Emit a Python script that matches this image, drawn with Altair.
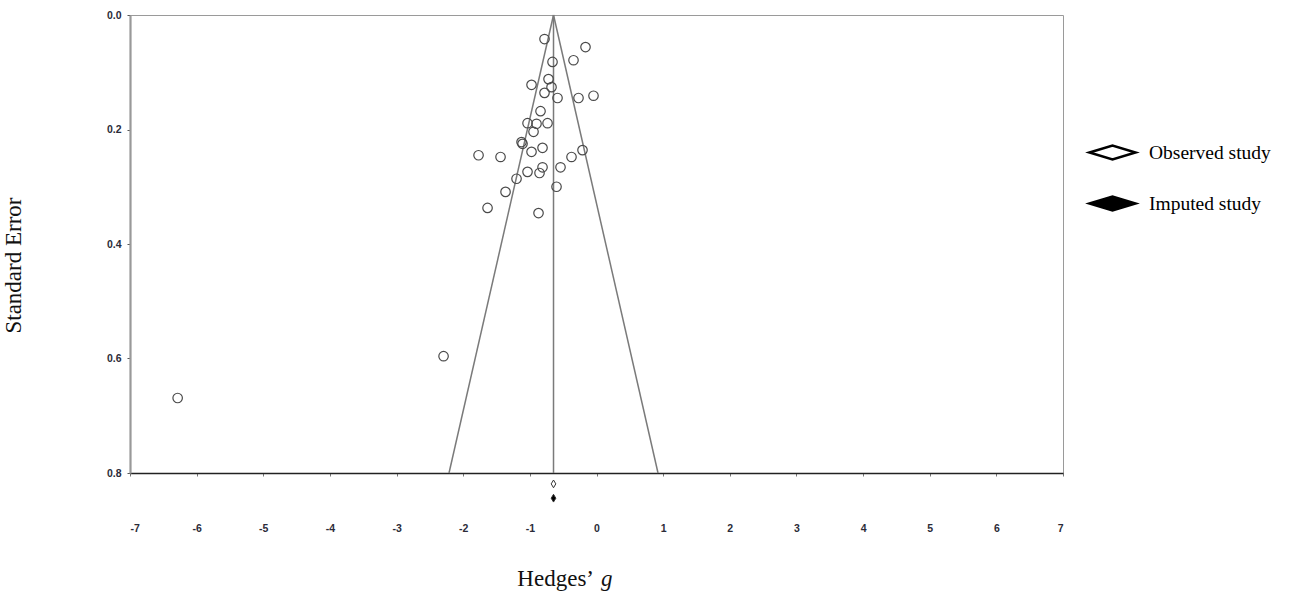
import altair as alt
import pandas as pd

# Observed studies: Hedges' g and standard error
g_values = [-0.78, -0.165, -0.345, -0.66, -0.975, -0.72, -0.675, -0.78, -0.585, -0.27,
            -0.045, -0.84, -1.035, -0.90, -0.735, -0.945, -1.125, -1.11, -0.81, -0.975,
            -1.77, -1.44, -0.21, -0.375, -0.54, -0.81, -0.855, -1.035, -1.20, -0.60,
            -1.365, -1.635, -0.87, -2.295, -6.285]
se_values = [0.042, 0.056, 0.079, 0.082, 0.122, 0.112, 0.126, 0.136, 0.145, 0.145,
             0.141, 0.168, 0.189, 0.190, 0.189, 0.204, 0.222, 0.225, 0.232, 0.239,
             0.245, 0.248, 0.236, 0.248, 0.266, 0.266, 0.276, 0.274, 0.286, 0.300,
             0.309, 0.337, 0.346, 0.596, 0.669]

# Summary effects (observed / imputed) shown under the axis
summary_labels = ["Observed study", "Imputed study"]
summary_g = [-0.645, -0.645]
summary_row = [0.819, 0.844]

mean_g = -0.645
se_max = 0.8
x_ticks = [-7, -6, -5, -4, -3, -2, -1, 0, 1, 2, 3, 4, 5, 6, 7]
y_ticks = [0.0, 0.2, 0.4, 0.6, 0.8]

studies = pd.DataFrame({"g": g_values, "se": se_values})
summary = pd.DataFrame({"g": summary_g, "row": summary_row, "type": summary_labels})
funnel = pd.DataFrame({
    "x": [mean_g, mean_g, mean_g],
    "x2": [mean_g - 1.96 * se_max, mean_g + 1.96 * se_max, mean_g],
    "y": [0.0, 0.0, 0.0],
    "y2": [se_max, se_max, se_max],
})

xs = alt.Scale(domain=[-7, 7], nice=False, zero=False)
ys = alt.Scale(domain=[0, 0.8], nice=False, zero=False, reverse=True)

tick_font = "Liberation Sans"
xaxis = alt.Axis(values=x_ticks, labelExpr="'' + datum.value", title=None, grid=False,
                 labelFont=tick_font, labelFontWeight="bold", labelFontSize=10.5,
                 labelColor="#2b2b38", tickSize=3, tickColor="#777", labelPadding=47,
                 domainColor="#222", domainWidth=1.5)
yaxis = alt.Axis(values=y_ticks, format=".1f", title="Standard Error", grid=False,
                 labelFont=tick_font, labelFontWeight="bold", labelFontSize=10.5,
                 labelColor="#2b2b38", tickSize=3, tickColor="#555", labelPadding=6,
                 domainColor="#999", domainWidth=2.2,
                 titleFont="Liberation Serif", titleFontSize=23, titleFontWeight="normal",
                 titleColor="#111", titleX=-105, titleY=250, titleAngle=-90)

rules = alt.Chart(funnel).mark_rule(color="#7a7a7a", strokeWidth=1.5).encode(
    x=alt.X("x:Q", scale=xs, axis=xaxis),
    x2="x2:Q",
    y=alt.Y("y:Q", scale=ys, axis=yaxis),
    y2="y2:Q",
)

points = alt.Chart(studies).mark_point(
    shape="circle", filled=False, stroke="#4a4a4a", strokeWidth=1.2, size=90, opacity=1
).encode(
    x=alt.X("g:Q", scale=xs, axis=xaxis),
    y=alt.Y("se:Q", scale=ys, axis=yaxis),
)

wide_diamond = "M-1,0L0,-0.3L1,0L0,0.3Z"
tall_diamond = "M0,-1L0.6,0L0,1L-0.6,0Z"

diamonds = alt.Chart(summary).mark_point(
    shape=tall_diamond, filled=True, size=60, stroke="#333", strokeWidth=1, opacity=1
).encode(
    x=alt.X("g:Q", scale=xs, axis=xaxis),
    y=alt.Y("row:Q", scale=ys, axis=yaxis),
    fill=alt.Fill("type:N",
                  scale=alt.Scale(domain=summary_labels, range=["white", "black"]),
                  legend=alt.Legend(title=None, orient="none", legendX=958, legendY=113,
                                    symbolType=wide_diamond, symbolSize=2116,
                                    symbolStrokeColor="black", symbolStrokeWidth=2.5,
                                    labelFont="Liberation Serif", labelFontSize=19.5,
                                    labelColor="black", labelOffset=12, rowPadding=14,
                                    labelLimit=300, padding=0)),
)

one = pd.DataFrame({"k": [0]})
title_main = alt.Chart(one).mark_text(
    font="Liberation Serif", fontSize=23, color="#111", align="right", baseline="alphabetic"
).encode(x=alt.value(464), y=alt.value(571), text=alt.value("Hedges\u2019"))
title_g = alt.Chart(one).mark_text(
    font="Liberation Serif", fontSize=23, fontStyle="italic", color="#111",
    align="left", baseline="alphabetic"
).encode(x=alt.value(471), y=alt.value(571), text=alt.value("g"))

chart = alt.layer(rules, points, diamonds, title_main, title_g).properties(
    width=933, height=458,
    autosize=alt.AutoSizeParams(type="none"),
    padding={"left": 130, "top": 15, "right": 238, "bottom": 124},
    background="white",
).configure_view(stroke="#9a9a9a", strokeWidth=1)

chart.save("out.html", embed_options={"renderer": "svg", "actions": False})
